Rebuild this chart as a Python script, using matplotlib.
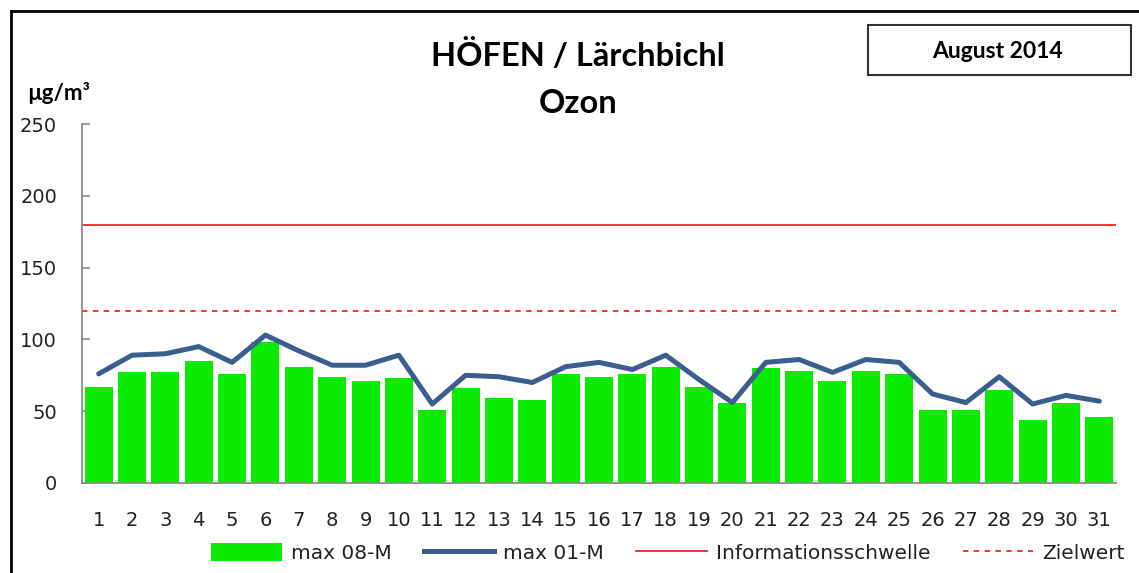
import matplotlib
matplotlib.use("Agg")
import matplotlib.pyplot as plt
from matplotlib.patches import Patch, Rectangle
from matplotlib.lines import Line2D
import numpy as np

# Tageswerte August 2014, HÖFEN / Lärchbichl
days = list(range(1, 32))
max_08m = [67, 77, 77, 85, 76, 98, 81, 74, 71, 73, 51, 66, 59, 58, 76, 74,
           76, 81, 67, 56, 80, 78, 71, 78, 76, 51, 51, 65, 44, 56, 46]
max_01m = [76, 89, 90, 95, 84, 103, 92, 82, 82, 89, 55, 75, 74, 70, 81, 84,
           79, 89, 72, 56, 84, 86, 77, 86, 84, 62, 56, 74, 55, 61, 57]
info_threshold = 180
target_value = 120
y_ticks = [0, 50, 100, 150, 200, 250]

BAR_GREEN = "#0aeb00"
LINE_BLUE = "#3a5f8f"
RED = "#ff2020"
AXIS_GRAY = "#8c8c8c"

W, H = 1139, 573
fig = plt.figure(figsize=(W / 100, H / 100), dpi=100)

# axes placed in pixel coords of the reference
left, right, top, bottom = 82, 1116, 124, 483
ax = fig.add_axes([left / W, 1 - bottom / H, (right - left) / W, (bottom - top) / H])

ax.bar(days, max_08m, width=0.84, color=BAR_GREEN, zorder=2)
ax.plot(days, max_01m, color=LINE_BLUE, linewidth=3.6, solid_joinstyle="round",
        solid_capstyle="round", zorder=3)
ax.axhline(info_threshold, color=RED, linewidth=1.3, zorder=1)
ax.axhline(target_value, color=RED, linewidth=1.3, linestyle=(0, (3, 3)), zorder=1)

ax.set_xlim(0.5, 31.5)
ax.set_ylim(0, 250)
ax.set_xticks(days)
ax.set_yticks(y_ticks)

for side in ["top", "right"]:
    ax.spines[side].set_visible(False)
for side in ["left", "bottom"]:
    ax.spines[side].set_color(AXIS_GRAY)
    ax.spines[side].set_linewidth(1.3)

ax.tick_params(axis="y", direction="in", length=6, width=1.2, color=AXIS_GRAY,
               pad=18, labelsize=14, labelcolor="#222222")
ax.tick_params(axis="x", length=0, pad=20, labelsize=14, labelcolor="#222222")

# titles
fig.text(578 / W, 1 - 55 / H, "HÖFEN / Lärchbichl", ha="center", va="center",
         fontsize=23.5, fontweight="bold", family="Lato")
fig.text(578 / W, 1 - 103 / H, "Ozon", ha="center", va="center",
         fontsize=23.5, fontweight="bold", family="Lato")
fig.text(27 / W, 1 - 93 / H, "µg/m³", ha="left", va="center",
         fontsize=16, fontweight="bold", family="Lato")

# month box
fig.patches.append(Rectangle((868 / W, 1 - 75 / H), (1131 - 868) / W, 50 / H,
                             transform=fig.transFigure, fill=False,
                             edgecolor="#333333", linewidth=1.5))
fig.text(997 / W, 1 - 52 / H, "August 2014", ha="center", va="center",
         fontsize=16.5, fontweight="bold", family="Lato")

# outer frame (left and top edges visible)
fig.add_artist(Line2D([11 / W, 11 / W], [0, 1 - 11 / H], transform=fig.transFigure,
                      color="black", linewidth=2))
fig.add_artist(Line2D([11 / W, 1], [1 - 11 / H, 1 - 11 / H], transform=fig.transFigure,
                      color="black", linewidth=2))

handles = [
    Patch(facecolor=BAR_GREEN, edgecolor="none", label="max 08-M"),
    Line2D([], [], color=LINE_BLUE, linewidth=3.6, label="max 01-M"),
    Line2D([], [], color=RED, linewidth=1.3, label="Informationsschwelle"),
    Line2D([], [], color=RED, linewidth=1.3, linestyle=(0, (3, 3)), label="Zielwert"),
]
fig.legend(handles=handles, loc="center", bbox_to_anchor=(668 / W, 1 - 553 / H),
           ncol=4, frameon=False, fontsize=14.5, handlelength=3.5, handleheight=1.0,
           handletextpad=0.45, columnspacing=1.6, labelcolor="#222222")

fig.savefig("out.png", dpi=100)
